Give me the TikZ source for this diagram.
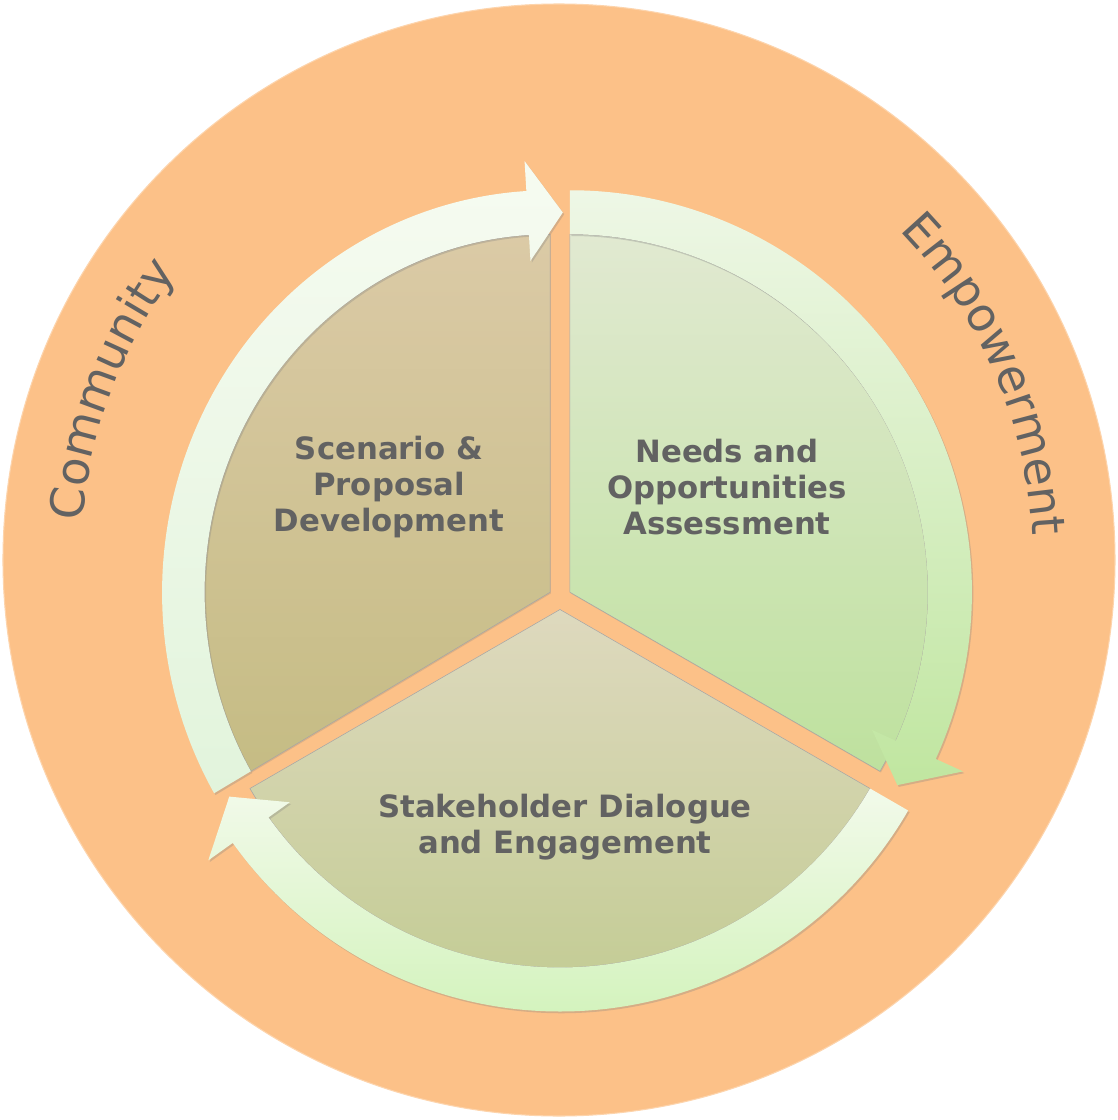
\documentclass[tikz,border=0pt]{standalone}
\usepackage{fontspec}
\setmainfont{DejaVu Sans}
\usetikzlibrary{shadows,decorations.text}

\definecolor{ring}{RGB}{252,193,136}
\definecolor{txt}{RGB}{98,98,98}
% sector fills
\definecolor{needsTop}{RGB}{225,233,209}
\definecolor{needsBot}{RGB}{190,225,158}
\definecolor{scenTop}{RGB}{219,202,166}
\definecolor{scenBot}{RGB}{197,188,132}
\definecolor{stakeTop}{RGB}{222,217,190}
\definecolor{stakeBot}{RGB}{193,203,145}
% arrow fills
\definecolor{needsBandTop}{RGB}{238,247,230}
\definecolor{needsBandBot}{RGB}{192,230,160}
\definecolor{scenBandTop}{RGB}{246,251,241}
\definecolor{scenBandBot}{RGB}{226,244,220}
\definecolor{stakeBandTop}{RGB}{242,250,234}
\definecolor{stakeBandBot}{RGB}{212,243,190}

\tikzset{
  piece/.style={draw=black!35, line width=0.3pt,
    drop shadow={shadow xshift=0.5pt, shadow yshift=-0.7pt, opacity=0.25}},
  band/.style={drop shadow={shadow xshift=0.8pt, shadow yshift=-1pt, opacity=0.3}},
  piecetext/.style={font=\bfseries\fontsize{17.5}{20.5}\selectfont, text=txt, align=center},
  ringtext/.style={decorate, decoration={text along path, text align=center,
    text color=txt, text={|\fontsize{26.5}{30}\selectfont|#1}}},
}

\begin{document}
\begin{tikzpicture}[scale=0.02]
  \useasboundingbox (-559,-560) rectangle (559,560);
  \fill[white] (-559,-560) rectangle (559,560);
  \fill[ring, draw=ring!70!white, line width=0.6pt] (0,0) circle[radius=556];

  % the three pie pieces, pulled apart from the hub
  \foreach \bis/\xs/\name in {30/1/needs, 150/0.965/scen, 270/1/stake} {
    \begin{scope}[shift={(1,-38)}, shift={(\bis:11.5)}, xscale=\xs]
      \shade[piece, top color=\name Top, bottom color=\name Bot]
        (0,0) -- (\bis+60:358) arc[start angle=\bis+60, end angle=\bis-60, radius=358] -- cycle;
    \end{scope}
  }

  % curved arrows round each piece (\e = end of shaft, \t = tip)
  \foreach \bis/\xs/\e/\t/\name in {30/1/54.5/60.5/needs, 150/0.965/56.5/62/scen, 270/1/54.5/60.5/stake} {
    \begin{scope}[shift={(1,-38)}, shift={(\bis:11.5)}, xscale=\xs]
      \shade[band, top color=\name BandTop, bottom color=\name BandBot]
        (\bis+60:402) arc[start angle=\bis+60, end angle=\bis-\e, radius=402]
        -- (\bis-\e:432) -- (\bis-\t:380) -- (\bis-\e:332)
        -- (\bis-\e:358) arc[start angle=\bis-\e, end angle=\bis+60, radius=358] -- cycle;
    \end{scope}
  }

  \node[piecetext] (scenario) at (-170,73) {Scenario \&\\Proposal\\Development};
  \node[piecetext] (needs) at (168,73) {Needs and\\Opportunities\\Assessment};
  \node[piecetext] (stakeholder) at (6,-267) {Stakeholder Dialogue\\and Engagement};

  % words on the outer ring
  \path[ringtext=Community] (189.2:478) arc[start angle=189.2, end angle=129.2, radius=478];
  \path[ringtext=Empowerment] (53.5:474) arc[start angle=53.5, end angle=-6.5, radius=474];
\end{tikzpicture}
\end{document}
